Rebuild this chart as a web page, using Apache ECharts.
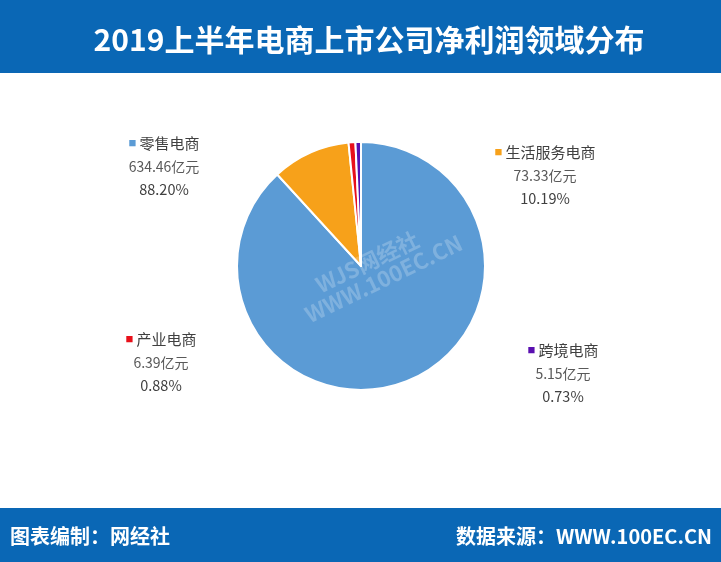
<!DOCTYPE html>
<html>
<head>
<meta charset="utf-8">
<script src="https://cdn.jsdelivr.net/npm/echarts@6/dist/echarts.min.js"></script>
<style>
  html, body { margin: 0; padding: 0; background: #fff; }
  #main { width: 721px; height: 562px; }
</style>
</head>
<body>
<div id="main"></div>
<script>
// 数据
var categories = ['零售电商', '生活服务电商', '产业电商', '跨境电商'];
var profits = [634.46, 73.33, 6.39, 5.15];          // 亿元
var shares = ['88.20%', '10.19%', '0.88%', '0.73%']; // 图上标注的占比
var colors = ['#5b9bd5', '#f7a11a', '#e8101a', '#5a0fb0'];

// 标签位置（中心x, 顶部y）
var labelPos = [[164, 132], [545, 141], [161, 328], [563, 339]];

var myChart = echarts.init(document.getElementById('main'));

var pieData = categories.map(function (name, i) {
    return {name: name, value: profits[i], share: shares[i]};
});

option = {
    backgroundColor: '#fff',
    color: colors,
    graphic: [
        {   // 标题栏
            type: 'rect',
            shape: {x: 0, y: 0, width: 721, height: 73},
            style: {fill: '#0a67b5'}
        },
        {
            type: 'text',
            x: 369, y: 40,
            style: {
                text: '2019上半年电商上市公司净利润领域分布',
                fill: '#fff',
                font: 'bold 30px "Noto Sans CJK SC"',
                align: 'center',
                verticalAlign: 'middle'
            }
        },
        {   // 底栏
            type: 'rect',
            shape: {x: 0, y: 508, width: 721, height: 54},
            style: {fill: '#0a67b5'}
        },
        {
            type: 'text',
            x: 10, y: 536,
            style: {
                text: '图表编制：网经社',
                fill: '#fff',
                font: 'bold 20px "Noto Sans CJK SC"',
                verticalAlign: 'middle'
            }
        },
        {
            type: 'text',
            x: 712, y: 536,
            style: {
                text: '数据来源：WWW.100EC.CN',
                fill: '#fff',
                font: 'bold 20px "Noto Sans CJK SC"',
                align: 'right',
                verticalAlign: 'middle'
            }
        },
        {   // 水印
            type: 'text',
            x: 372, y: 272,
            rotation: 0.45,
            z: 100,
            style: {
                text: 'WJS网经社\n   WWW.100EC.CN',
                fill: 'rgba(255,255,255,0.22)',
                font: 'bold 22px "Noto Sans CJK SC"',
                align: 'center',
                verticalAlign: 'middle'
            }
        }
    ],
    series: [
        {
            type: 'pie',
            center: [361, 266],
            radius: [0, 124],
            startAngle: 90,
            clockwise: true,
            avoidLabelOverlap: false,
            itemStyle: {
                borderColor: '#fff',
                borderWidth: 2
            },
            labelLine: {show: false},
            label: {
                show: true,
                position: 'outside',
                formatter: function (p) {
                    return '{dot|■} {name|' + p.name + '}\n{val|' + p.value + '亿元}\n{pct|' + p.data.share + '}';
                },
                align: 'center',
                rich: {
                    dot: {fontSize: 13, color: 'inherit', lineHeight: 23},
                    name: {fontSize: 15, color: '#404040', fontFamily: 'Noto Sans CJK SC', lineHeight: 23},
                    val: {fontSize: 14, color: '#595959', fontFamily: 'Noto Sans CJK SC', lineHeight: 23},
                    pct: {fontSize: 14.5, color: '#404040', fontFamily: 'Noto Sans CJK SC', lineHeight: 23}
                }
            },
            labelLayout: function (params) {
                var p = labelPos[params.dataIndex];
                return {x: p[0], y: p[1], align: 'center', verticalAlign: 'top'};
            },
            data: pieData
        }
    ]
};
myChart.setOption(option);
</script>
</body>
</html>
